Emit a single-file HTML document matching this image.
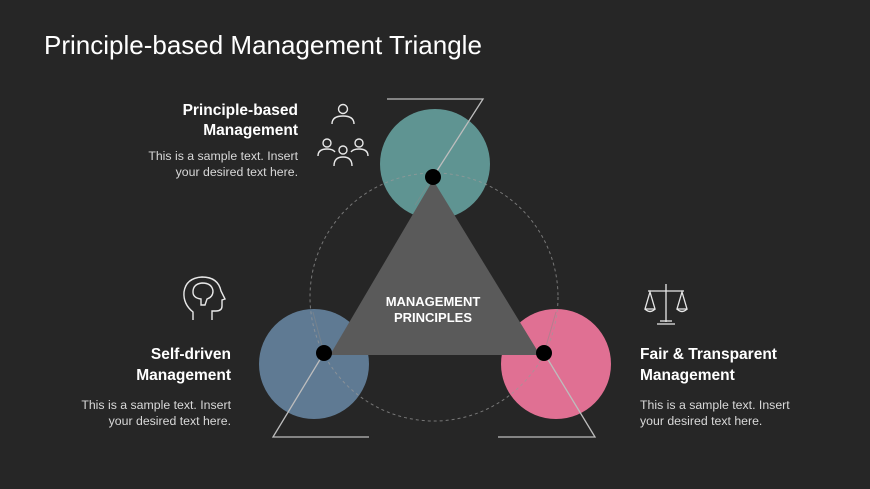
<!DOCTYPE html>
<html><head><style>
html,body{margin:0;padding:0;background:#262626;}
svg{display:block;}
text{font-family:"Liberation Sans",sans-serif;}
</style></head><body>
<svg width="870" height="489" viewBox="0 0 870 489" xmlns="http://www.w3.org/2000/svg">
<rect width="870" height="489" fill="#262626"/>
<text x="44" y="54" font-size="26" fill="#ffffff">Principle-based Management Triangle</text>

<circle cx="435" cy="164" r="55" fill="#5f9492"/>
<circle cx="314" cy="364" r="55" fill="#5f7a93"/>
<circle cx="556" cy="364" r="55" fill="#e07093"/>
<circle cx="434" cy="297" r="124" fill="none" stroke="#9a9a9a" stroke-opacity="0.7" stroke-width="1" stroke-dasharray="3,3"/>

<g stroke="#bdbdbd" stroke-width="1.3" fill="none">
<polyline points="387,99 483,99 433,177"/>
<polyline points="369,437 273,437 324,353"/>
<polyline points="498,437 595,437 544,353"/>
</g>

<polygon points="433,180 330,355 540,355" fill="#5a5a5a"/>
<g stroke="#8a8a8a" stroke-width="1" stroke-opacity="0.5">
<line x1="433" y1="177" x2="415" y2="205"/>
<line x1="324" y1="353" x2="313" y2="312"/>
<line x1="544" y1="353" x2="556" y2="312"/>
</g>
<circle cx="433" cy="177" r="8" fill="#000"/>
<circle cx="324" cy="353" r="8" fill="#000"/>
<circle cx="544" cy="353" r="8" fill="#000"/>

<text x="433" y="306" font-size="13" font-weight="bold" fill="#fff" text-anchor="middle">MANAGEMENT</text>
<text x="433" y="322" font-size="13" font-weight="bold" fill="#fff" text-anchor="middle">PRINCIPLES</text>

<g font-size="15.5" font-weight="bold" fill="#fff">
<text x="298" y="115" text-anchor="end">Principle-based</text>
<text x="298" y="135" text-anchor="end">Management</text>
<text x="231" y="359" text-anchor="end">Self-driven</text>
<text x="231" y="380" text-anchor="end">Management</text>
<text x="640" y="359">Fair &amp; Transparent</text>
<text x="640" y="380">Management</text>
</g>
<g font-size="12.3" fill="#d9d9d9">
<text x="298" y="160" text-anchor="end">This is a sample text. Insert</text>
<text x="298" y="176" text-anchor="end">your desired text here.</text>
<text x="231" y="409" text-anchor="end">This is a sample text. Insert</text>
<text x="231" y="425" text-anchor="end">your desired text here.</text>
<text x="640" y="409">This is a sample text. Insert</text>
<text x="640" y="425">your desired text here.</text>
</g>

<g stroke="#e8e8e8" stroke-width="1.4" fill="none">
<circle cx="343" cy="109" r="4.5"/>
<path d="M332,124 q0,-8 11,-8 q11,0 11,8"/>
<circle cx="327" cy="143" r="4"/>
<circle cx="359" cy="143" r="4"/>
<circle cx="343" cy="150" r="4"/>
<path d="M318,156 q0,-7 9,-7 q6,0 8,3"/>
<path d="M368,156 q0,-7 -9,-7 q-6,0 -8,3"/>
<path d="M334,166 q0,-9 9,-9 q9,0 9,9"/>
</g>
<g stroke="#e8e8e8" stroke-width="1.4" fill="none">
<path d="M193,320 l0,-8 q-10,-8 -9,-20 q2,-14 18,-15 q16,0 19,14 l4,8 -3,1 0,6 q0,5 -6,5 l-4,0 0,9"/>
<path d="M193,292 q0,-8 9,-9 q10,0 11,8 q0,6 -6,8 l-2,6 -4,0 0,-6 q-8,-1 -8,-7z"/>
</g>
<g stroke="#e8e8e8" stroke-width="1.3" fill="none">
<line x1="666" y1="284" x2="666" y2="322"/>
<line x1="648" y1="291" x2="684" y2="291"/>
<line x1="657" y1="324" x2="675" y2="324"/>
<line x1="660" y1="321" x2="672" y2="321"/>
<path d="M650,292 l-5,17 h10 z M682,292 l-5,17 h10 z"/>
<path d="M645,309 q5,5 10,0 M677,309 q5,5 10,0"/>
</g>
</svg>
</body></html>
